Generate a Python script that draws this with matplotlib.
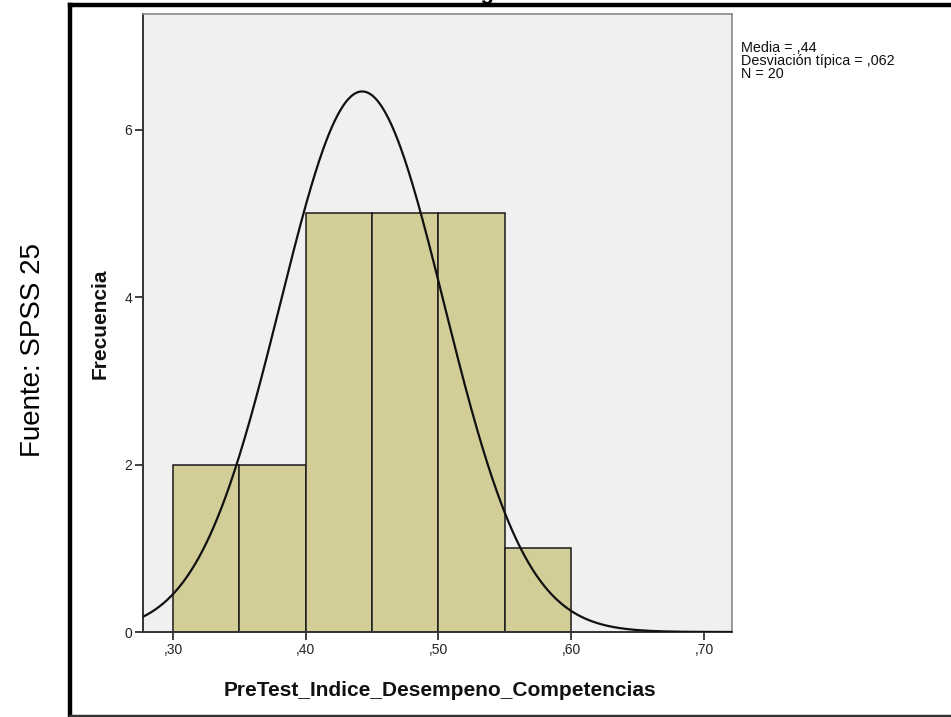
import numpy as np
import matplotlib
matplotlib.use("Agg")
import matplotlib.pyplot as plt
from matplotlib.lines import Line2D

# ---- data ----
bin_edges = [0.30, 0.35, 0.40, 0.45, 0.50, 0.55, 0.60]
counts = [2, 2, 5, 5, 5, 1]
mean_val = 0.4425
sd_val = 0.0618
n_obs = 20
x_ticks = [0.30, 0.40, 0.50, 0.60, 0.70]
x_tick_labels = [",30", ",40", ",50", ",60", ",70"]
y_ticks = [0, 2, 4, 6]
y_tick_labels = ["0", "2", "4", "6"]
stats_lines = ["Media = ,44", "Desviación típica = ,062", "N = 20"]

plt.rcParams['font.family'] = ['Liberation Sans', 'DejaVu Sans']

W, H = 951, 717
fig = plt.figure(figsize=(W / 100, H / 100), dpi=100)
fig.patch.set_facecolor('white')

def fx(px):
    return px / W

def fy(py):
    return 1 - py / H

ax = fig.add_axes([fx(143), fy(632), fx(732) - fx(143), (632 - 14) / H])
ax.set_facecolor('#F0F0F0')

widths = np.diff(bin_edges)
ax.bar(bin_edges[:-1], counts, width=widths, align='edge',
       color='#D3CE98', edgecolor='#1a1a1a', linewidth=1.1, zorder=2)

xmin, xmax = 0.2774, 0.7211
xs = np.linspace(xmin, xmax, 600)
binw = bin_edges[1] - bin_edges[0]
ys = n_obs * binw / (sd_val * np.sqrt(2 * np.pi)) * np.exp(-0.5 * ((xs - mean_val) / sd_val) ** 2)
ax.plot(xs, ys, color='#111111', linewidth=1.6, zorder=3)

ax.set_xlim(xmin, xmax)
ax.set_ylim(0, 7.38)
ax.set_xticks(x_ticks)
ax.set_xticklabels(x_tick_labels)
ax.set_yticks(y_ticks)
ax.set_yticklabels(y_tick_labels)
ax.tick_params(axis='both', direction='out', length=6, width=1.3,
               color='#333333', labelsize=10, labelcolor='#222222', pad=2)

for side in ['left', 'bottom']:
    ax.spines[side].set_color('#333333')
    ax.spines[side].set_linewidth(1.4)
for side in ['top', 'right']:
    ax.spines[side].set_color('#888888')
    ax.spines[side].set_linewidth(1.2)

# axis labels
fig.text(fx(440), fy(690), "PreTest_Indice_Desempeno_Competencias",
         ha='center', va='center', fontsize=15, fontweight='bold', color='#111111')
fig.text(fx(100), fy(324), "Frecuencia", ha='center', va='center', rotation=90,
         fontsize=15, fontweight='bold', color='#111111')

# stats box text
fig.text(fx(741), fy(41), "\n".join(stats_lines), ha='left', va='top',
         fontsize=10.4, linespacing=0.92, color='#111111')

# side caption
fig.text(fx(33), fy(350), "Fuente: SPSS 25", ha='center', va='center',
         rotation=90, fontsize=20, color='#000000')

# cut-off title (only descender visible, as in the reference)
fig.text(fx(487), fy(-1), "Histograma", ha='center', va='baseline',
         fontsize=16, fontweight='bold', color='#000000')

# outer frame
fig.add_artist(Line2D([fx(70), 1.0], [fy(5), fy(5)], color='black', linewidth=3.2,
                      transform=fig.transFigure))
fig.add_artist(Line2D([fx(70), fx(70)], [fy(5), fy(716)], color='black', linewidth=3.2,
                      transform=fig.transFigure))
fig.add_artist(Line2D([fx(70), 1.0], [fy(716), fy(716)], color='#333333', linewidth=2.5,
                      transform=fig.transFigure))

fig.savefig("out.png", dpi=100, facecolor='white')
